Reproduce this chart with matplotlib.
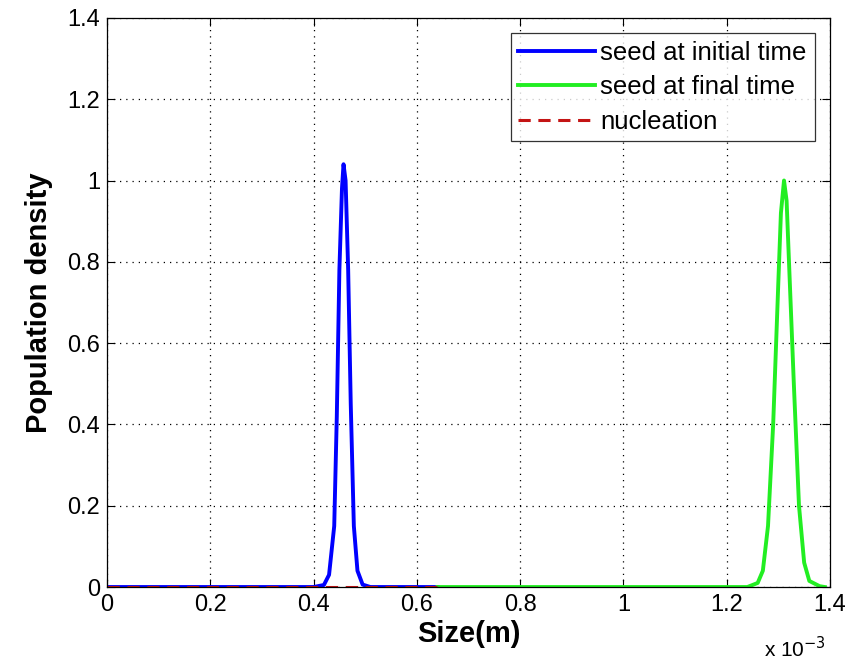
import matplotlib
matplotlib.use("Agg")
import matplotlib.pyplot as plt
import numpy as np

plt.rcParams['font.family'] = ['Liberation Sans', 'DejaVu Sans']

# data (x in units of 1e-3 m)
blue_x = [0.0, 0.40, 0.42, 0.43, 0.44, 0.445, 0.45, 0.455, 0.458, 0.462, 0.467, 0.472, 0.478, 0.485, 0.495, 0.51, 0.64]
blue_y = [0.0, 0.0, 0.005, 0.03, 0.15, 0.42, 0.78, 0.98, 1.04, 1.0, 0.78, 0.45, 0.15, 0.04, 0.006, 0.0, 0.0]

green_x = [0.64, 1.24, 1.26, 1.27, 1.28, 1.29, 1.30, 1.305, 1.311, 1.316, 1.32, 1.33, 1.34, 1.35, 1.36, 1.38, 1.39]
green_y = [0.0, 0.0, 0.01, 0.04, 0.15, 0.40, 0.75, 0.92, 1.0, 0.95, 0.82, 0.5, 0.2, 0.06, 0.015, 0.002, 0.0]

nuc_x = [0.0, 0.64]
nuc_y = [0.0, 0.0]

xticks = [0, 0.2, 0.4, 0.6, 0.8, 1.0, 1.2, 1.4]
xticklabels = ['0', '0.2', '0.4', '0.6', '0.8', '1', '1.2', '1.4']
yticks = [0, 0.2, 0.4, 0.6, 0.8, 1.0, 1.2, 1.4]
yticklabels = ['0', '0.2', '0.4', '0.6', '0.8', '1', '1.2', '1.4']

scale = 1e-3

fig = plt.figure(figsize=(8.56, 6.63), dpi=100)
ax = fig.add_axes([0.125, 0.1146, 0.8446, 0.8584])

ax.plot(np.array(blue_x) * scale, blue_y, color='#0000ff', lw=2.8, label='seed at initial time')
ax.plot(np.array(green_x) * scale, green_y, color='#22ee22', lw=2.8, label='seed at final time')
ax.plot(np.array(nuc_x) * scale, nuc_y, color='#c41414', lw=2.2, ls=(0, (4, 2.5)), label='nucleation')

ax.set_xlim(0, 1.4e-3)
ax.set_ylim(0, 1.4)
ax.set_xticks(np.array(xticks) * scale)
ax.set_xticklabels(xticklabels)
ax.set_yticks(yticks)
ax.set_yticklabels(yticklabels)

ax.grid(True, color='black', ls=(0, (1, 4)), lw=0.9)
ax.tick_params(direction='in', top=True, right=True, length=6, width=0.8, labelsize=17, pad=5)
for s in ax.spines.values():
    s.set_linewidth(0.9)

ax.set_xlabel('Size(m)', fontsize=21, fontweight='bold', labelpad=3)
ax.set_ylabel('Population density', fontsize=21, fontweight='bold', labelpad=10)

fig.text(0.893, 0.002, r'x 10$^{-3}$', fontsize=15, ha='left', va='bottom')

leg = ax.legend(loc='upper right', fontsize=18.5, frameon=True, fancybox=False,
                edgecolor='black', handlelength=3.0, handletextpad=0.2,
                borderaxespad=0.6, labelspacing=0.4, borderpad=0.3)
leg.get_frame().set_linewidth(0.9)

fig.savefig('out.png', dpi=100)
